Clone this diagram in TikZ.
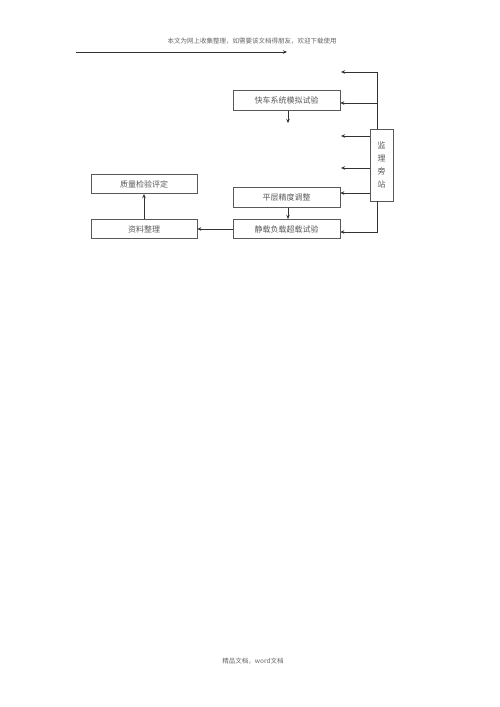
\documentclass[tikz,border=0pt]{standalone}
\usepackage{fontspec}
\newfontfamily\cjk{Noto Sans CJK SC}
\usetikzlibrary{arrows.meta}
\begin{document}
\begin{tikzpicture}[x=1pt,y=-1pt,
  line width=0.6pt, draw=black!80,
  arr/.style={-{Stealth[length=4pt,width=3.5pt]}},
  stepbox/.style={draw=black!65, minimum width=107pt, minimum height=19.5pt, inner sep=0pt,
    font=\cjk\fontsize{8}{9}\selectfont, text=black!65},
  note/.style={font=\cjk\fontsize{6.5}{7}\selectfont, text=black!60}]
\useasboundingbox (0,0) rectangle (500,707);
% page header and footer
\node[note] (head) at (252,41) {本文为网上收集整理，如需要该文档得朋友，欢迎下载使用};
\node[note] (foot) at (253,661) {精品文档，word文档};
\coordinate (lineA) at (76,52);
\coordinate (lineB) at (287,52);
\draw[arr] (lineA) to (lineB);
% boxes
\node[stepbox] (fast) at (286.5,100.5) {快车系统模拟试验};
\node[stepbox] (level) at (286.5,197.5) {平层精度调整};
\node[stepbox] (static) at (286.5,229) {静载负载超载试验};
\node[stepbox, minimum width=106pt] (data) at (144,229) {资料整理};
\node[stepbox, minimum width=106pt] (quality) at (144,184) {质量检验评定};
\node[stepbox, minimum width=23pt, minimum height=72pt, align=center,
  font=\cjk\fontsize{8}{13}\selectfont] (super) at (381.5,165) {监\\理\\旁\\站};
% right hand line
\coordinate (top) at (377,72);
\coordinate (bot) at (377,232);
\coordinate (tipA) at (341,72);
\coordinate (fastout) at (288,123);
\coordinate (tipB) at (341,136);
\coordinate (tipC) at (341,168);
\draw (top) to (super.north -| top);
\draw[arr] (top) to (tipA);
\draw[arr] (top |- 0,103) to (fast.east |- 0,103);
\draw[arr] (super.west |- tipB) to (tipB);
\draw[arr] (super.west |- tipC) to (tipC);
\draw[arr] (super.west |- 0,193) to (level.east |- 0,193);
\draw[arr] (super.south -| bot) to (bot) to (static.east |- bot);
% flow
\draw[arr] (fast.south -| fastout) to (fastout);
\draw[arr] (level.south -| fastout) to (static.north -| fastout);
\draw[arr] (static.west) to (data.east);
\draw[arr] (data.north) to (quality.south);
\end{tikzpicture}
\end{document}
